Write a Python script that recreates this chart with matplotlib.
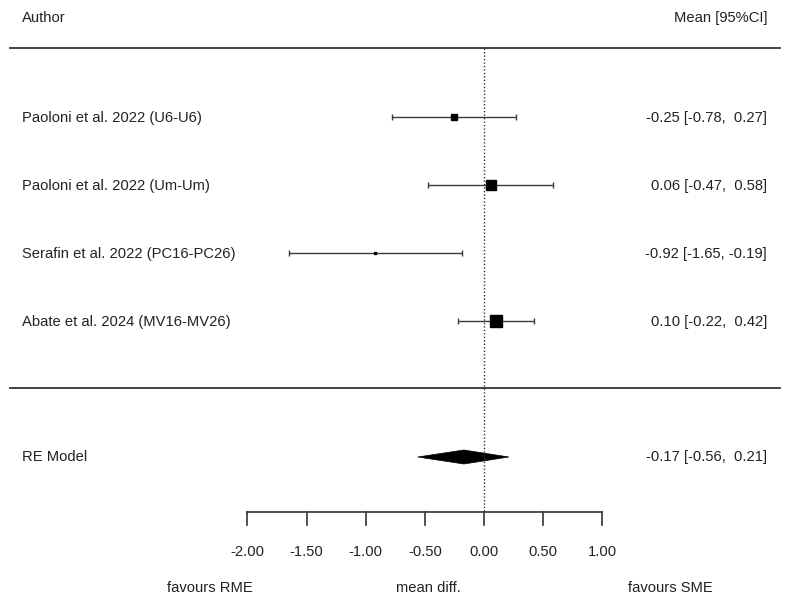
import matplotlib

matplotlib.use("Agg")
import matplotlib.pyplot as plt
from matplotlib.patches import Polygon

plt.rcParams["font.family"] = ["Liberation Sans", "DejaVu Sans"]

# Study data
studies = [
    "Paoloni et al. 2022 (U6-U6)",
    "Paoloni et al. 2022 (Um-Um)",
    "Serafin et al. 2022 (PC16-PC26)",
    "Abate et al. 2024 (MV16-MV26)",
]
means = [-0.25, 0.06, -0.92, 0.10]
lower = [-0.78, -0.47, -1.65, -0.22]
upper = [0.27, 0.58, -0.19, 0.42]
weights = [5.0, 6.5, 1.8, 8.6]  # marker size ~ study weight

re_mean, re_lower, re_upper = -0.17, -0.56, 0.21

xticks = [-2.0, -1.5, -1.0, -0.5, 0.0, 0.5, 1.0]

# Layout (vertical position in pixel-like units, x in mean-diff units)
W, H = 790, 609
X0, SCALE = 484, 118.3
row_y = [117, 185, 253, 321]
re_y = 457
axis_y = 512


def px(x):
    return (x - X0) / SCALE


fig = plt.figure(figsize=(W / 100, H / 100), dpi=100)
ax = fig.add_axes([0, 0, 1, 1])
ax.set_xlim(px(0), px(W))
ax.set_ylim(H, 0)
ax.set_axis_off()

txt = "#222222"
fs = 10.6

# Header
ax.text(px(22), 18, "Author", fontsize=fs, color=txt, va="center", ha="left")
ax.text(px(767), 18, "Mean [95%CI]", fontsize=fs, color=txt, va="center", ha="right")

# Separators
for y in (48, 388):
    ax.plot([px(10), px(780)], [y, y], color="#333333", lw=1.3)

# Null line
ax.plot([0, 0], [48, axis_y], color="#333333", lw=1, ls=(0, (1, 1.5)))

# Studies
for name, m, lo, hi, w, y in zip(studies, means, lower, upper, weights, row_y):
    ax.errorbar(
        m, y, xerr=[[m - lo], [hi - m]], fmt="none", ecolor="#3a3a3a",
        elinewidth=1, capsize=2.2, capthick=1,
    )
    ax.plot(m, y, marker="s", markersize=w, color="black", mec="black")
    ax.text(px(22), y + 1, name, fontsize=fs, color=txt, va="center", ha="left")
    ax.text(
        px(767), y + 1, f"{m:.2f} [{lo:.2f}, {hi:5.2f}]",
        fontsize=fs, color=txt, va="center", ha="right",
    )

# RE model diamond
diamond = Polygon(
    [(re_lower, re_y), (re_mean, re_y - 7), (re_upper, re_y), (re_mean, re_y + 7)],
    closed=True, facecolor="black", edgecolor="black", lw=0.5,
)
ax.add_patch(diamond)
ax.text(px(22), re_y, "RE Model", fontsize=fs, color=txt, va="center", ha="left")
ax.text(
    px(767), re_y, f"{re_mean:.2f} [{re_lower:.2f}, {re_upper:5.2f}]",
    fontsize=fs, color=txt, va="center", ha="right",
)

# x axis
ax.plot([xticks[0], xticks[-1]], [axis_y, axis_y], color="#333333", lw=1.2)
for t in xticks:
    ax.plot([t, t], [axis_y, axis_y + 13], color="#333333", lw=1.2)
    ax.text(t, 552, f"{t:.2f}", fontsize=fs, color=txt, ha="center", va="center")

ax.text(px(210), 588, "favours RME", fontsize=fs, color=txt, ha="center", va="center")
ax.text(px(428), 588, "mean diff.", fontsize=fs, color=txt, ha="center", va="center")
ax.text(px(670), 588, "favours SME", fontsize=fs, color=txt, ha="center", va="center")

fig.savefig("out.png", dpi=100)
